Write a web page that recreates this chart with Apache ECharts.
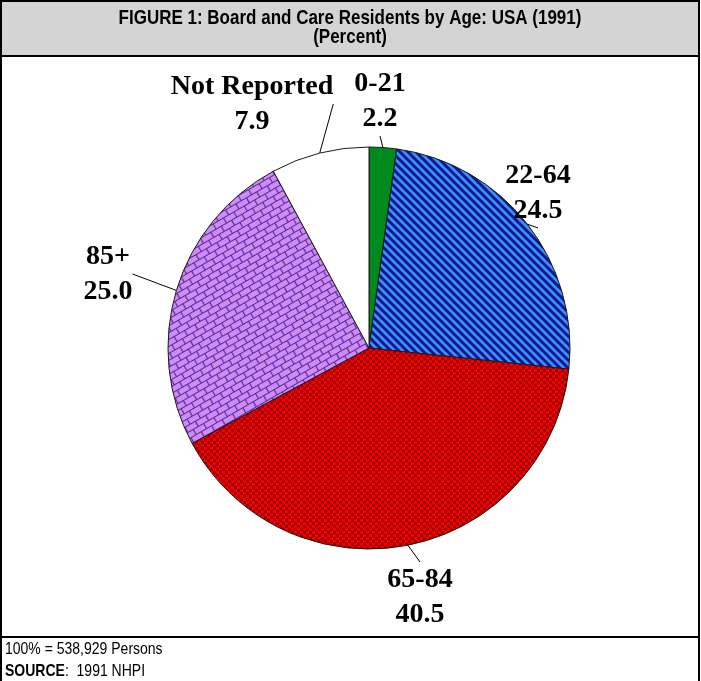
<!DOCTYPE html>
<html>
<head>
<meta charset="utf-8">
<script src="https://cdn.jsdelivr.net/npm/echarts@6/dist/echarts.min.js"></script>
<style>
html,body{margin:0;padding:0;background:#fff;}
#main{width:701px;height:681px;}
</style>
</head>
<body>
<div id="main"></div>
<script>
// ---- data ----
const categories = ['0-21', '22-64', '65-84', '85+', 'Not Reported'];
const values = [2.2, 24.5, 40.5, 25.0, 7.9];
const titleLines = ['FIGURE 1: Board and Care Residents by Age: USA (1991)', '(Percent)'];
const footerTotal = '100% = 538,929 Persons';
const footerSourceLabel = 'SOURCE';
const footerSourceText = ':  1991 NHPI';

// ---- pattern tiles ----
function tile(w, h, draw) {
  const c = document.createElement('canvas');
  c.width = w; c.height = h;
  draw(c.getContext('2d'), w, h);
  return c;
}
const stripeTile = tile(8, 8, (g, w, h) => {
  g.fillStyle = '#3d8fff'; g.fillRect(0, 0, w, h);
  g.strokeStyle = '#0b1a8a'; g.lineWidth = 3;
  for (let k = -w; k <= w; k += w) {
    g.beginPath(); g.moveTo(k - 1, -1); g.lineTo(k + w + 1, h + 1); g.stroke();
  }
});
const checkTile = tile(6, 6, (g) => {
  g.fillStyle = '#f20000'; g.fillRect(0, 0, 6, 6);
  g.fillStyle = '#a00000'; g.fillRect(0, 0, 3, 3); g.fillRect(3, 3, 3, 3);
});
const brickTile = tile(12, 12, (g) => {
  g.fillStyle = '#cc8cff'; g.fillRect(0, 0, 12, 12);
  g.strokeStyle = '#5e2a80'; g.lineWidth = 1.2;
  g.beginPath();
  g.moveTo(0, 0.5); g.lineTo(12, 0.5);
  g.moveTo(0, 6.5); g.lineTo(12, 6.5);
  g.moveTo(0.5, 0); g.lineTo(0.5, 6);
  g.moveTo(6.5, 6); g.lineTo(6.5, 12);
  g.stroke();
});
const fills = [
  '#008a1e',
  { image: stripeTile, repeat: 'repeat' },
  { image: checkTile, repeat: 'repeat' },
  { image: brickTile, repeat: 'repeat', rotation: -Math.PI / 6 },
  '#ffffff'
];
const labelPos = [[380, 101], [538, 193], [420, 597], [108, 274], [252, 104]];

const chart = echarts.init(document.getElementById('main'), null, { renderer: 'canvas' });
const sansFont = '"Liberation Sans", Arial, sans-serif';
chart.setOption({
  backgroundColor: '#ffffff',
  animation: false,
  graphic: [
    { type: 'rect', shape: { x: 1, y: 1, width: 698, height: 55 }, style: { fill: '#d4d4d4', stroke: '#000', lineWidth: 2 }, z: 0 },
    { type: 'rect', shape: { x: 1, y: 56, width: 698, height: 581 }, style: { fill: 'none', stroke: '#000', lineWidth: 2 }, z: 0 },
    { type: 'rect', shape: { x: 1, y: 637, width: 698, height: 60 }, style: { fill: 'none', stroke: '#000', lineWidth: 2 }, z: 0 },
    { type: 'text', x: 350, y: 18, scaleY: 1.18, style: { text: titleLines[0], font: 'bold 17px ' + sansFont, fill: '#000', textAlign: 'center', textVerticalAlign: 'middle' }, z: 5 },
    { type: 'text', x: 350, y: 37, scaleY: 1.18, style: { text: titleLines[1], font: 'bold 17px ' + sansFont, fill: '#000', textAlign: 'center', textVerticalAlign: 'middle' }, z: 5 },
    { type: 'text', x: 5, y: 649, scaleY: 1.2, style: { text: footerTotal, font: '14px ' + sansFont, fill: '#000', textAlign: 'left', textVerticalAlign: 'middle' }, z: 5 },
    { type: 'text', x: 5, y: 671, scaleY: 1.2, style: {
        text: '{b|' + footerSourceLabel + '}{n|' + footerSourceText + '}',
        textAlign: 'left', textVerticalAlign: 'middle',
        rich: { b: { font: 'bold 14px ' + sansFont, fill: '#000' }, n: { font: '14px ' + sansFont, fill: '#000' } }
      }, z: 5 }
  ],
  series: [{
    type: 'pie',
    center: [369, 348],
    radius: 201,
    startAngle: 90,
    clockwise: true,
    silent: true,
    data: categories.map((c, i) => ({ name: c, value: values[i], itemStyle: { color: fills[i] } })),
    itemStyle: { borderColor: '#1a1a1a', borderWidth: 1 },
    label: {
      show: true,
      position: 'outside',
      formatter: p => p.name + '\n' + p.value.toFixed(1),
      fontFamily: '"Liberation Serif", "Times New Roman", serif',
      fontWeight: 'bold',
      fontSize: 28,
      lineHeight: 35,
      color: '#000',
      align: 'center'
    },
    labelLine: { show: true, length: 10, length2: 0, smooth: false, lineStyle: { color: '#000', width: 1 } },
    labelLayout: function (params) {
      const p = labelPos[params.dataIndex];
      return { x: p[0], y: p[1], align: 'center', verticalAlign: 'middle' };
    }
  }]
});
</script>
</body>
</html>
